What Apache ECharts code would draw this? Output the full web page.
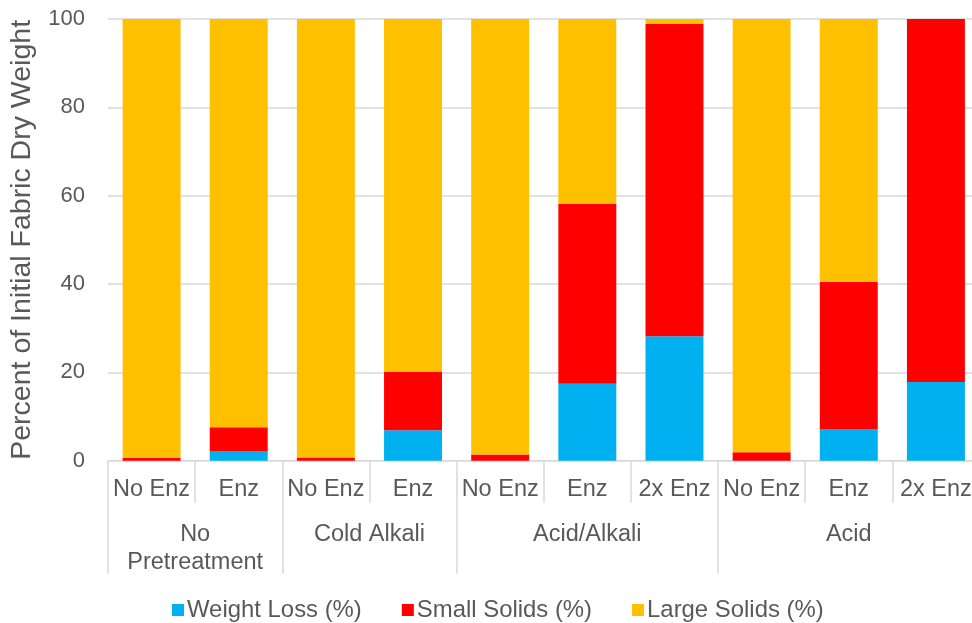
<!DOCTYPE html>
<html>
<head>
<meta charset="utf-8">
<script src="https://cdn.jsdelivr.net/npm/echarts@6/dist/echarts.min.js"></script>
<style>
  html, body { margin: 0; padding: 0; background: #ffffff; overflow: hidden; width: 972px; height: 623px; }
  /* the plot area runs a few pixels past the right edge of the page */
  #chart { width: 980px; height: 623px; }
</style>
</head>
<body>
<div id="chart"></div>
<script>
// Enzyme treatments (inner axis level)
const treatments = ['No Enz', 'Enz', 'No Enz', 'Enz', 'No Enz', 'Enz', '2x Enz', 'No Enz', 'Enz', '2x Enz'];
// Pretreatment groups (outer axis level) and their boundaries / centres in category units
const groupNames = ['No\nPretreatment', 'Cold Alkali', 'Acid/Alkali', 'Acid'];
const groupCenters = [1, 3, 5.5, 8.5];
const groupBounds = [0, 2, 4, 7, 10];

// Fractions of initial fabric dry weight (%)
const weightLoss  = [0, 2.2, -0.4, 6.9, 0, 17.4, 28.2, 0, 7.2, 17.8];
const smallSolids = [0.6, 5.4, 0.7, 13.2, 1.4, 40.7, 70.7, 1.9, 33.3, 82.2];
const largeSolids = [99.4, 92.4, 99.3, 79.9, 98.6, 41.9, 1.1, 98.1, 59.5, 0];

const yTicks = { min: 0, max: 100, interval: 20 };

const FONT = "'Liberation Sans', Arial, sans-serif";
const TEXT = '#595959';
const LINE = '#d9d9d9';

const chart = echarts.init(document.getElementById('chart'), null, { renderer: 'canvas' });

function barSeries(name, data, color) {
  return {
    name: name,
    type: 'bar',
    stack: 'total',
    data: data,
    barCategoryGap: '33.5%',
    itemStyle: { color: color },
    emphasis: { disabled: true },
    xAxisIndex: 0,
    yAxisIndex: 0
  };
}

chart.setOption({
  animation: false,
  textStyle: { fontFamily: FONT },
  grid: { left: 105.5, width: 874, top: 19, bottom: 162.3, containLabel: false },
  legend: {
    left: 167,
    top: 593,
    icon: 'rect',
    itemWidth: 12,
    itemHeight: 12,
    itemGap: 40,
    textStyle: { color: TEXT, fontSize: 23.9, fontFamily: FONT, padding: [0, 0, 0, -2] },
    data: ['Weight Loss (%)', 'Small Solids (%)', 'Large Solids (%)']
  },
  xAxis: [
    {
      type: 'category',
      position: 'bottom',
      data: treatments,
      axisLine: { show: true, lineStyle: { color: LINE, width: 1 } },
      axisTick: { show: true, interval: 0, length: 42, lineStyle: { color: LINE, width: 1.5 } },
      axisLabel: { interval: 0, margin: 17, color: TEXT, fontSize: 23.5, fontFamily: FONT },
      splitLine: { show: false }
    },
    {
      type: 'value',
      position: 'bottom',
      min: 0,
      max: 10,
      axisLine: { show: false },
      splitLine: { show: false },
      axisTick: {
        show: true,
        customValues: groupBounds,
        length: 113,
        lineStyle: { color: LINE, width: 1.5 }
      },
      axisLabel: {
        show: true,
        customValues: groupCenters,
        margin: 60,
        color: TEXT,
        fontSize: 23.5,
        lineHeight: 28,
        fontFamily: FONT,
        formatter: function (v) {
          const i = groupCenters.indexOf(v);
          return i >= 0 ? groupNames[i] : '';
        }
      }
    }
  ],
  yAxis: {
    type: 'value',
    min: yTicks.min,
    max: yTicks.max,
    interval: yTicks.interval,
    name: 'Percent of Initial Fabric Dry Weight',
    nameLocation: 'middle',
    nameGap: 71,
    nameTextStyle: { color: TEXT, fontSize: 28.5, fontFamily: FONT },
    axisLine: { show: false },
    axisTick: { show: false },
    axisLabel: { margin: 23, color: TEXT, fontSize: 22, fontFamily: FONT },
    splitLine: { show: true, lineStyle: { color: LINE, width: 1.5 } }
  },
  series: [
    barSeries('Weight Loss (%)', weightLoss, '#00B0F0'),
    barSeries('Small Solids (%)', smallSolids, '#FF0000'),
    barSeries('Large Solids (%)', largeSolids, '#FFC000')
  ]
});
</script>
</body>
</html>
